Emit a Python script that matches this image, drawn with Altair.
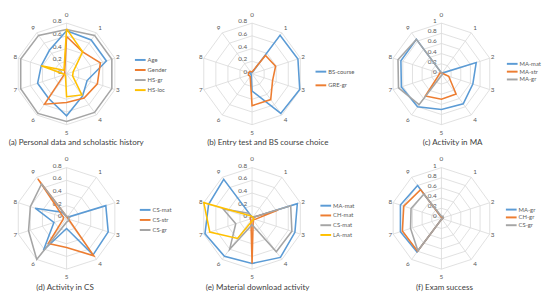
import altair as alt
import pandas as pd

# ---------------- data ----------------
spoke_labels = ["0", "1", "2", "3", "4", "5", "6", "7", "8", "9"]
rings_08 = ["0", "0.2", "0.4", "0.6", "0.8"]
rings_10 = ["0", "0.2", "0.4", "0.6", "0.8", "1"]

# (a) Personal data and scholastic history (axis max 0.8)
a_names = ["Age", "Gender", "HS-gr", "HS-loc"]
a_age = [0.68, 0.66, 0.66, 0.34, 0.43, 0.66, 0.48, 0.48, 0.42, 0.46]
a_gender = [0.59, 0.43, 0.56, 0.51, 0.47, 0.45, 0.59, 0.04, 0.03, 0.05]
a_hsgr = [0.70, 0.75, 0.75, 0.75, 0.75, 0.75, 0.77, 0.76, 0.76, 0.75]
a_hsloc = [0.71, 0.43, 0.11, 0.10, 0.41, 0.36, 0.03, 0.03, 0.42, 0.07]

# (b) Entry test and BS course choice (axis max 0.8)
b_names = ["BS-course", "GRE-gr"]
b_bscourse = [0.02, 0.75, 0.76, 0.79, 0.77, 0.27, 0.02, 0.02, 0.04, 0.02]
b_gregr = [0.03, 0.36, 0.39, 0.34, 0.50, 0.50, 0.05, 0.06, 0.06, 0.05]

# (c) Activity in MA (axis max 1)
c_names = ["MA-mat", "MA-str", "MA-gr"]
c_mamat = [0.02, 0.02, 0.72, 0.65, 0.73, 0.70, 0.80, 0.83, 0.84, 0.84]
c_mastr = [0.02, 0.02, 0.03, 0.15, 0.49, 0.50, 0.54, 0.05, 0.04, 0.03]
c_magr = [0.02, 0.02, 0.02, 0.02, 0.02, 0.03, 0.75, 0.89, 0.90, 0.84]

# (d) Activity in CS (axis max 0.8)
d_names = ["CS-mat", "CS-str", "CS-gr"]
d_csmat = [0.03, 0.02, 0.65, 0.69, 0.71, 0.16, 0.62, 0.21, 0.52, 0.12]
d_csstr = [0.03, 0.02, 0.02, 0.03, 0.73, 0.46, 0.49, 0.06, 0.05, 0.77]
d_csgr = [0.03, 0.04, 0.05, 0.03, 0.05, 0.06, 0.80, 0.63, 0.60, 0.67]

# (e) Material download activity (axis max 0.8)
e_names = ["MA-mat", "CH-mat", "CS-mat", "LA-mat"]
e_mamat = [0.02, 0.02, 0.75, 0.71, 0.76, 0.71, 0.74, 0.78, 0.72, 0.76]
e_chmat = [0.03, 0.02, 0.43, 0.05, 0.03, 0.71, 0.03, 0.03, 0.03, 0.03]
e_csmat = [0.02, 0.02, 0.64, 0.66, 0.65, 0.10, 0.60, 0.27, 0.48, 0.10]
e_lamat = [0.03, 0.02, 0.02, 0.03, 0.03, 0.04, 0.39, 0.70, 0.80, 0.05]

# (f) Exam success (axis max 1)
f_names = ["MA-gr", "CH-gr", "CS-gr"]
f_magr = [0.02, 0.03, 0.03, 0.02, 0.02, 0.02, 0.82, 0.85, 0.85, 0.80]
f_chgr = [0.02, 0.03, 0.03, 0.02, 0.02, 0.02, 0.80, 0.81, 0.78, 0.70]
f_csgr = [0.04, 0.05, 0.04, 0.02, 0.02, 0.02, 0.79, 0.64, 0.63, 0.59]

captions = [
    "(a) Personal data and scholastic history",
    "(b) Entry test and BS course choice",
    "(c) Activity in MA",
    "(d) Activity in CS",
    "(e) Material download activity",
    "(f) Exam success",
]

BLUE, ORANGE, GRAY, YELLOW = "#5B9BD5", "#ED7D31", "#A5A5A5", "#FFC000"
GRID = "#D9D9D9"
TXT = "#595959"
FONT = "Lato"

PX = 52.0   # pixels per full-scale radius
CX = 59.0   # radar centre inside each panel (px)
CY = 64.0


def radar(caption, maxv, ring_labels, names, series, colors, W, H,
          lx, ly, rowpad, cap_x, cap_y):
    xs = alt.Scale(domain=[-CX / PX, (W - CX) / PX], nice=False, zero=False)
    ys = alt.Scale(domain=[-(H - CY) / PX, CY / PX], nice=False, zero=False)
    X = lambda f: alt.X(f, type="quantitative", scale=xs, axis=None)
    Y = lambda f: alt.Y(f, type="quantitative", scale=ys, axis=None)

    # grid rings (decagons)
    ring_rows = []
    for lab in ring_labels[1:]:
        for k in range(11):
            ring_rows.append({"level": float(lab), "k": k})
    rings = alt.Chart(pd.DataFrame(ring_rows)).transform_calculate(
        gx=f"datum.level/{maxv}*sin(datum.k*PI/5)",
        gy=f"datum.level/{maxv}*cos(datum.k*PI/5)",
    ).mark_line(color=GRID, strokeWidth=0.8).encode(
        x=X("gx"), y=Y("gy"), detail="level:N", order="k:Q"
    )

    spoke_df = pd.DataFrame({"k": list(range(10)), "lab": spoke_labels})
    spokes = alt.Chart(spoke_df).transform_calculate(
        x0="0", y0="0",
        sx="sin(datum.k*PI/5)", sy="cos(datum.k*PI/5)",
    ).mark_rule(color=GRID, strokeWidth=0.8).encode(
        x=X("x0"), y=Y("y0"), x2="sx:Q", y2="sy:Q"
    )
    spoke_text = alt.Chart(spoke_df).transform_calculate(
        rr=f"(54.5 + 6*pow(cos(datum.k*PI/5), 2))/{PX}",
    ).transform_calculate(
        tx="datum.rr*sin(datum.k*PI/5)", ty="datum.rr*cos(datum.k*PI/5)",
    ).mark_text(font=FONT, fontSize=6.5, color=TXT, baseline="middle", align="center").encode(
        x=X("tx"), y=Y("ty"), text="lab:N"
    )

    ring_df = pd.DataFrame({"lab": ring_labels})
    ring_text = alt.Chart(ring_df).transform_calculate(
        tx="0", ty=f"toNumber(datum.lab)/{maxv}",
    ).mark_text(font=FONT, fontSize=6.5, color=TXT, baseline="middle", align="right",
                dx=-5, dy=-2).encode(
        x=X("tx"), y=Y("ty"), text="lab:N"
    )

    rows = []
    for name, vals in zip(names, series):
        for k in range(11):
            rows.append({"series": name, "k": k, "value": vals[k % 10]})
    lines = alt.Chart(pd.DataFrame(rows)).transform_calculate(
        px=f"datum.value/{maxv}*sin(datum.k*PI/5)",
        py=f"datum.value/{maxv}*cos(datum.k*PI/5)",
    ).mark_line(strokeWidth=1.6).encode(
        x=X("px"), y=Y("py"), order="k:Q",
        color=alt.Color(
            "series:N",
            scale=alt.Scale(domain=names, range=colors),
            legend=alt.Legend(
                title=None, orient="none", legendX=lx, legendY=ly,
                symbolType="M-1.83,0H1.83", symbolSize=36, symbolStrokeWidth=2,
                labelFont=FONT, labelFontSize=6, labelColor=TXT,
                rowPadding=rowpad, labelOffset=3.5, padding=0, offset=0,
            ),
        ),
    )

    cap = alt.Chart(pd.DataFrame({"c": [caption]})).mark_text(
        font=FONT, fontSize=8.2, color="#404040", align="center", baseline="middle"
    ).encode(x=alt.X(datum=cap_x, type="quantitative", scale=xs, axis=None),
             y=alt.Y(datum=cap_y, type="quantitative", scale=ys, axis=None),
             text="c:N")

    return alt.layer(rings, spokes, spoke_text, ring_text, lines, cap).properties(
        width=W, height=H
    )


H1, H2 = 148, 140
CAPY = -71 / PX
pa = radar(captions[0], 0.8, rings_08, a_names, [a_age, a_gender, a_hsgr, a_hsloc],
           [BLUE, ORANGE, GRAY, YELLOW], 190, H1, 130.5, 45.7, 2.3, 0.19, CAPY)
pb = radar(captions[1], 0.8, rings_08, b_names, [b_bscourse, b_gregr],
           [BLUE, ORANGE], 194, H1, 125.5, 57.7, 6.0, 0.31, CAPY)
pc = radar(captions[2], 1.0, rings_10, c_names, [c_mamat, c_mastr, c_magr],
           [BLUE, ORANGE, GRAY], 160, H1, 127.5, 49.7, -0.5, 0.22, CAPY)
pd_ = radar(captions[3], 0.8, rings_08, d_names, [d_csmat, d_csstr, d_csgr],
            [BLUE, ORANGE, GRAY], 190, H2, 135.5, 51.3, 2.3, -0.03, CAPY)
pe = radar(captions[4], 0.8, rings_08, e_names, [e_mamat, e_chmat, e_csmat, e_lamat],
           [BLUE, ORANGE, GRAY, YELLOW], 194, H2, 130.5, 47.0, 2.0, 0.11, CAPY)
pf = radar(captions[5], 1.0, rings_10, f_names, [f_magr, f_chgr, f_csgr],
           [BLUE, ORANGE, GRAY], 160, H2, 126.5, 51.0, -0.5, 0.06, CAPY)

row1 = alt.hconcat(pa, pb, pc, spacing=0).resolve_scale(color="independent", x="independent", y="independent")
row2 = alt.hconcat(pd_, pe, pf, spacing=0).resolve_scale(color="independent", x="independent", y="independent")
chart = alt.vconcat(row1, row2, spacing=0).resolve_scale(
    color="independent", x="independent", y="independent"
).configure_view(stroke=None).properties(padding=0, background="white")

chart.save("out.html", embed_options={"renderer": "svg", "actions": False})
